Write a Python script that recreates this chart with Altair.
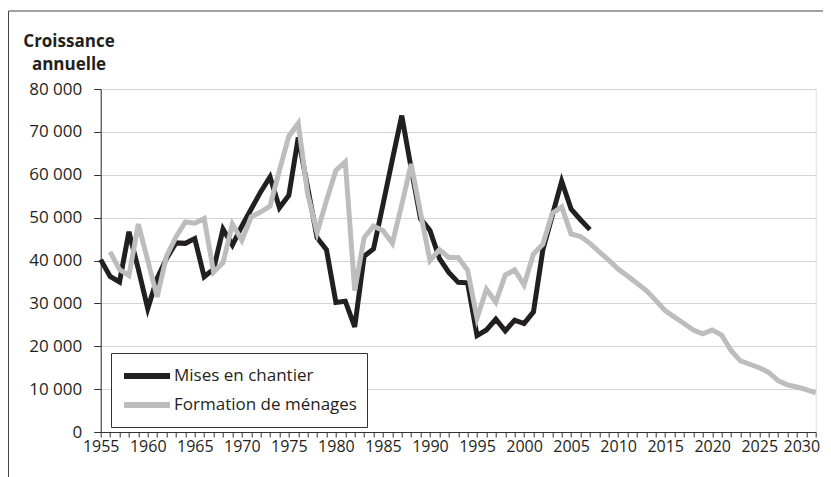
import altair as alt
import pandas as pd

# Mises en chantier (housing starts), 1955-2007
years_mises = list(range(1955, 2008))
mises = [40200, 36300, 35000, 46700, 38000, 28800, 35800, 40500, 44100, 44000,
         45100, 36200, 38000, 47300, 43600, 48000, 52000, 56000, 59500, 52300,
         55200, 68700, 57000, 45300, 42500, 30200, 30500, 24500, 41000, 42700,
         53000, 63500, 73800, 61500, 49700, 47000, 40500, 37200, 34900, 34800,
         22500, 23800, 26300, 23600, 26100, 25300, 28000, 42500, 50500, 58500,
         52000, 49500, 47200]

# Formation de ménages (household formation), 1956-2031
years_menages = list(range(1956, 2032))
menages = [42000, 37900, 36500, 48500, 40000, 31500, 41000, 45500, 49000, 48700,
           49800, 37300, 39500, 48500, 44700, 50200, 51300, 52700, 61000, 69000,
           72000, 55500, 46500, 54000, 61000, 63000, 33000, 45300, 48000, 47000,
           44000, 53000, 62500, 51000, 40000, 42500, 40700, 40700, 37700, 26500,
           33300, 30300, 36600, 37800, 34300, 41500, 43800, 51000, 52500, 46200,
           45600, 44000, 42000, 40100, 38000, 36400, 34700, 33000, 30700, 28300,
           26800, 25300, 23800, 22900, 23800, 22600, 19000, 16600, 15800, 15000,
           13900, 12000, 11000, 10500, 9900, 9100]

series_names = ["Mises en chantier", "Formation de ménages"]
series_colors = ["#231f20", "#bdbdbd"]
y_ticks = list(range(0, 80001, 10000))
x_ticks = list(range(1955, 2032))
title_lines = ["Croissance", "annuelle"]

df_m = pd.DataFrame({"annee": years_mises, "valeur": mises, "serie": series_names[0]})
df_f = pd.DataFrame({"annee": years_menages, "valeur": menages, "serie": series_names[1]})

FONT = "Open Sans"
INK = "#231f20"

x_enc = alt.X(
    "annee:Q",
    scale=alt.Scale(domain=[1955, 2031], nice=False, zero=False),
    axis=alt.Axis(
        values=x_ticks, labelExpr="datum.value % 5 == 0 ? datum.label : ''",
        format="d", tickSize=5, grid=False, title=None, labelFontSize=16,
        labelPadding=1, labelOverlap=False, labelFlush=False,
        labelOffset=alt.ConditionalAxisNumber(
            condition={"test": "datum.value == 2030", "value": -5}, value=0
        ),
        domainColor="#333333", tickColor="#333333", labelColor=INK, labelFont=FONT,
    ),
)
y_enc = alt.Y(
    "valeur:Q",
    scale=alt.Scale(domain=[0, 80000], nice=False),
    axis=alt.Axis(
        values=y_ticks, labelExpr="replace(format(datum.value, ','), ',', ' ')",
        tickSize=7, labelPadding=12, labelFontSize=17, title=None,
        gridColor="#d4d4d4", gridWidth=1.2, domainColor="#333333", tickColor="#333333",
        labelColor=INK, labelFont=FONT,
    ),
)
color_enc = alt.Color(
    "serie:N",
    scale=alt.Scale(domain=series_names, range=series_colors),
    legend=alt.Legend(
        title=None, orient="none", legendX=10.3, legendY=264,
        symbolType="M-1,0H3.6", symbolSize=400, symbolStrokeWidth=6,
        labelFontSize=17, labelFont=FONT, labelColor=INK, labelOffset=27,
        labelLimit=400, padding=10, rowPadding=4, strokeColor="#333333",
        fillColor="white",
    ),
)

frame = alt.Chart(pd.DataFrame({"k": [0]})).mark_rect(
    filled=False, stroke="#444444", strokeWidth=1
).encode(
    x=alt.value(-92.2), x2=alt.value(760), y=alt.value(-78), y2=alt.value(420)
)

title = alt.Chart(pd.DataFrame({"k": [0]})).mark_text(
    font=FONT, fontSize=17, fontWeight="bold", align="center",
    baseline="alphabetic", lineHeight=23, color=INK,
).encode(x=alt.value(-31.7), y=alt.value(-42), text=alt.value(title_lines))

line_m = alt.Chart(df_m).mark_line(strokeWidth=5, strokeJoin="miter").encode(
    x=x_enc, y=y_enc, color=color_enc
)
line_f = alt.Chart(df_f).mark_line(strokeWidth=5, strokeJoin="miter").encode(
    x=x_enc, y=y_enc, color=color_enc
)

chart = alt.layer(frame, title, line_m, line_f).properties(
    width=715, height=343,
    autosize=alt.AutoSizeParams(type="none"),
    padding={"left": 92.7, "top": 81, "right": 7.3, "bottom": 45},
).configure_view(stroke="#333333", strokeWidth=1).configure(background="white")

chart.save("out.html", embed_options={"renderer": "svg", "actions": False})
